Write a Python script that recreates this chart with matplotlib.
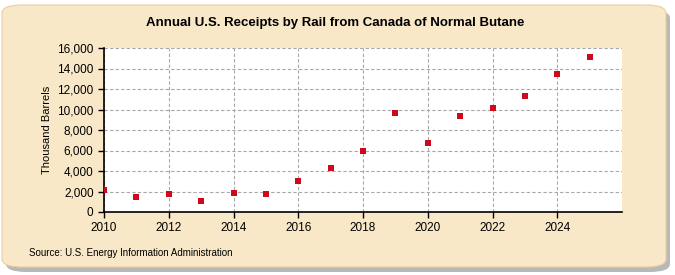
import numpy as np
import matplotlib
matplotlib.use("Agg")
import matplotlib.pyplot as plt
from matplotlib.patches import FancyBboxPatch

years = [2010, 2011, 2012, 2013, 2014, 2015, 2016, 2017,
         2018, 2019, 2020, 2021, 2022, 2023, 2024, 2025]
receipts = [2100, 1500, 1800, 1100, 1900, 1800, 3000, 4250,
            6000, 9700, 6700, 9400, 10100, 11300, 13500, 15100]
xticks = list(range(2010, 2025, 2))
yticks = list(range(0, 16001, 2000))

plt.rcParams["font.family"] = ["Liberation Sans", "DejaVu Sans"]

W, H = 675, 275
fig = plt.figure(figsize=(W / 100, H / 100), dpi=100)
fig.patch.set_facecolor("white")

# shadow + beige rounded panel
shadow = FancyBboxPatch((6 / W, 3 / H), 664 / W, 262 / H,
                        boxstyle="round,pad=0,rounding_size=0.03",
                        transform=fig.transFigure, facecolor="#b8b8b8",
                        edgecolor="none", zorder=0)
panel = FancyBboxPatch((2 / W, 8 / H), 664 / W, 262 / H,
                       boxstyle="round,pad=0,rounding_size=0.03",
                       transform=fig.transFigure, facecolor="#f8e8c8",
                       edgecolor="#e8d0a0", linewidth=0.8, zorder=1)
fig.patches.extend([shadow, panel])

ax = fig.add_axes([104 / W, 1 - 212 / H, (622 - 104) / W, (212 - 48) / H])
ax.set_zorder(2)
ax.set_facecolor("white")
ax.scatter(years, receipts, marker="s", s=14, color="#cc0a1e", zorder=3,
           linewidths=0)

ax.set_xlim(2010, 2026)
ax.set_ylim(0, 16000)
ax.set_xticks(xticks)
ax.set_yticks(yticks)
ax.set_yticklabels(["{:,}".format(v) for v in yticks])
ax.grid(True, color="#a8a8a8", linestyle=(0, (3, 2)), linewidth=0.8)
ax.set_axisbelow(True)
for side in ["top", "right"]:
    ax.spines[side].set_visible(False)
ax.spines["left"].set_linewidth(1.2)
ax.spines["bottom"].set_linewidth(1.2)
ax.tick_params(axis="both", labelsize=8.5, length=4, width=1, colors="black")
ax.set_ylabel("Thousand Barrels", fontsize=8)

fig.text(0.497, 1 - 23 / H, "Annual U.S. Receipts by Rail from Canada of Normal Butane",
         ha="center", va="center", fontsize=9.5, fontweight="bold", zorder=5)
fig.text(29 / W, 1 - 253 / H, "Source: U.S. Energy Information Administration",
         ha="left", va="center", fontsize=7, zorder=5)

fig.savefig("out.png", dpi=100, facecolor=fig.get_facecolor())
